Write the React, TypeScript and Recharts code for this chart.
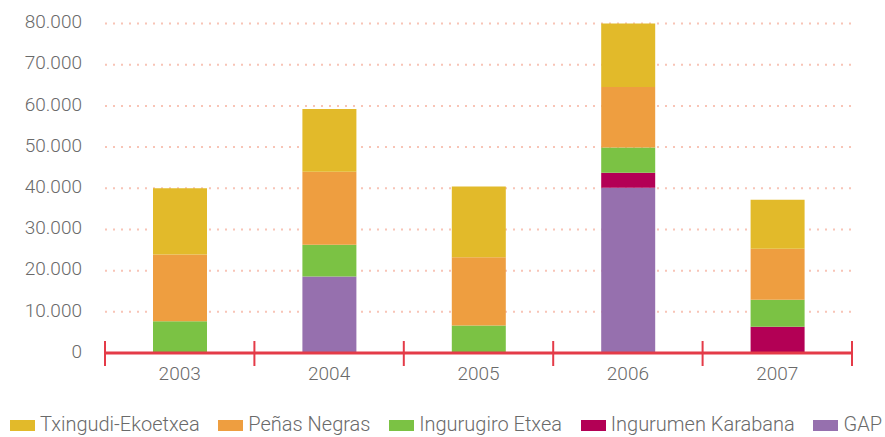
import React from 'react';
import { BarChart, Bar, XAxis, YAxis, CartesianGrid } from 'recharts';

const categories = ['2003', '2004', '2005', '2006', '2007'];
const gapValues = [0, 18550, 0, 40100, 0];
const ingurumenValues = [0, 0, 0, 3650, 6400];
const ingurugiroValues = [7700, 7750, 6700, 6150, 6550];
const penasValues = [16200, 17700, 16550, 14700, 12350];
const txingudiValues = [16100, 15250, 17150, 15400, 11900];
const yTicks = [0, 10000, 20000, 30000, 40000, 50000, 60000, 70000, 80000];

const series = [
  { key: 'gap', name: 'GAP', color: '#9670AE', values: gapValues },
  { key: 'ingurumen', name: 'Ingurumen Karabana', color: '#B30055', values: ingurumenValues },
  { key: 'ingurugiro', name: 'Ingurugiro Etxea', color: '#7BC244', values: ingurugiroValues },
  { key: 'penas', name: 'Peñas Negras', color: '#EE9E40', values: penasValues },
  { key: 'txingudi', name: 'Txingudi-Ekoetxea', color: '#E2BA2A', values: txingudiValues },
];

const data = categories.map((year, i) => {
  const row: Record<string, any> = { year };
  series.forEach((s) => {
    row[s.key] = s.values[i];
  });
  return row;
});

const PAGE_W = 885;
const PAGE_H = 437;
const W = 885;
const H = 400;
const M = { top: 23.5, right: 33, left: 0, bottom: 7 };
const Y_W = 105;
const PLOT_W = W - M.left - M.right - Y_W;
const BAND = PLOT_W / categories.length;
const RED = '#E43B48';
const TEXT = '#6a6a6a';

const fmt = (v: number) => String(v).replace(/\B(?=(\d{3})+(?!\d))/g, '.');

const XTick = (props: any) => {
  const { x, y, payload, index } = props;
  const left = x - BAND / 2;
  const right = x + BAND / 2;
  return (
    <g>
      <line x1={left} x2={left} y1={y - 12} y2={y + 13} stroke={RED} strokeWidth={2} />
      {index === categories.length - 1 && (
        <line x1={right} x2={right} y1={y - 12} y2={y + 13} stroke={RED} strokeWidth={2} />
      )}
      <text x={x} y={y + 27} textAnchor="middle" fill={TEXT} fontSize={19} fontWeight={300}>
        {payload.value}
      </text>
    </g>
  );
};

const legendOrder = ['txingudi', 'penas', 'ingurugiro', 'ingurumen', 'gap'];

export default function App() {
  return (
    <div
      style={{
        position: 'relative',
        width: PAGE_W,
        height: PAGE_H,
        fontFamily: 'Roboto, sans-serif',
        overflow: 'hidden',
      }}
    >
      <style>{`html,body{margin:0;padding:0;}`}</style>
      <div style={{ position: 'absolute', left: 0, top: 0 }}>
        <BarChart width={W} height={H} data={data} margin={M} barSize={54}>
          <CartesianGrid
            vertical={false}
            stroke="#F8C4B6"
            strokeWidth={2}
            strokeDasharray="2 6"
          />
          <YAxis
            width={Y_W}
            domain={[0, 80000]}
            ticks={yTicks}
            tickFormatter={fmt}
            axisLine={false}
            tickLine={false}
            tickSize={0}
            tickMargin={23}
            tick={{ fill: TEXT, fontSize: 19, fontWeight: 300, dy: -2 }}
          />
          <XAxis
            dataKey="year"
            height={40}
            interval={0}
            axisLine={{ stroke: RED, strokeWidth: 3 }}
            tickLine={false}
            tickSize={0}
            tickMargin={0}
            tick={<XTick />}
          />
          {series.map((s) => (
            <Bar
              key={s.key}
              dataKey={s.key}
              name={s.name}
              stackId="a"
              fill={s.color}
              isAnimationActive={false}
            />
          ))}
        </BarChart>
      </div>
      <div
        style={{
          position: 'absolute',
          left: 10,
          top: 413,
          width: 872,
          height: 22,
          display: 'flex',
          justifyContent: 'space-between',
          alignItems: 'center',
          fontSize: 20,
          fontWeight: 300,
          color: TEXT,
          whiteSpace: 'nowrap',
        }}
      >
        {legendOrder.map((k) => {
          const s = series.find((x) => x.key === k)!;
          return (
            <div key={k} style={{ display: 'flex', alignItems: 'center' }}>
              <span
                style={{
                  display: 'inline-block',
                  width: 25,
                  height: 11,
                  marginTop: 2,
                  marginRight: 5,
                  background: s.color,
                }}
              />
              <span>{s.name}</span>
            </div>
          );
        })}
      </div>
    </div>
  );
}
